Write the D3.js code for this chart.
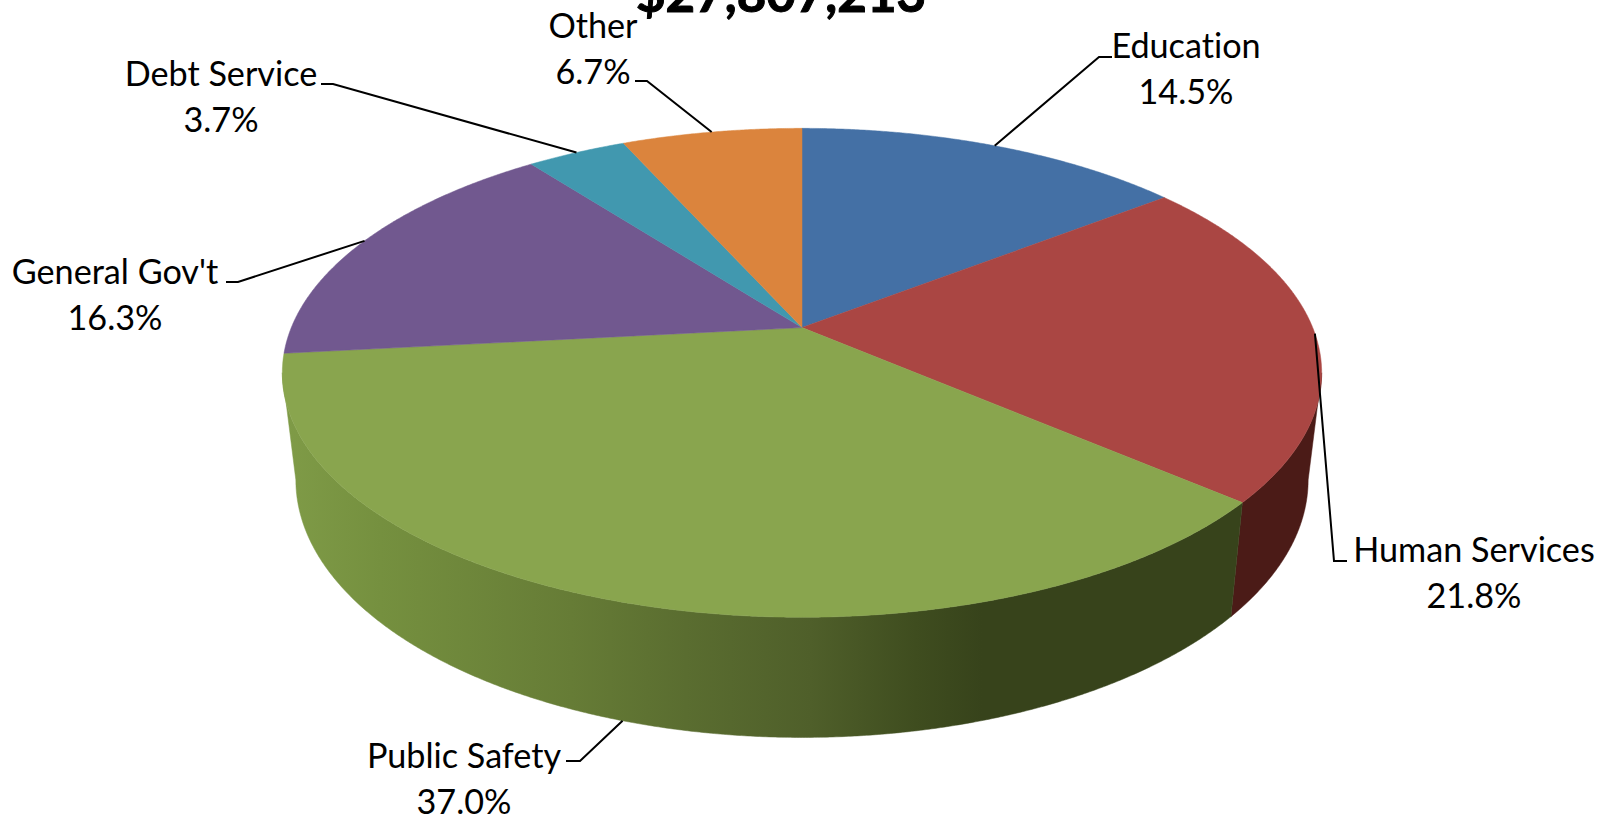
<!DOCTYPE html>
<html>
<head>
<meta charset="utf-8">
<script src="https://cdn.jsdelivr.net/npm/d3@7"></script>
<style>
body{margin:0;background:#fff}
svg{display:block}
text{font-family:Lato,sans-serif;fill:#000;font-variant-ligatures:none}
</style>
</head>
<body>
<div id="chart"></div>
<script>
var titleText = "$27,807,213";
var categories = ["Education", "Human Services", "Public Safety", "General Gov't", "Debt Service", "Other"];
var values = [14.5, 21.8, 37.0, 16.3, 3.7, 6.7];
var colors = ["#4470a5", "#aa4643", "#89a54e", "#71588f", "#4198af", "#db843d"];

// label layout, same order as categories: [center x, first baseline]
var labelPos = [[1186, 58], [1474, 562], [464, 768], [115, 284], [221, 86], [593, 38]];
// where the leader leaves the text: [start x, knee x, y]
var leaderPos = [[1112, 1099, 57], [1347, 1334, 561], [566, 580, 761], [226, 238, 282], [321, 333, 84], [635, 647, 81]];

var width = 1611, height = 819;
var cx = 802, cy = 327.6, rx = 510.7, ry = 236.1, persp = 0.1849;
var shrink = 0.974, growY = 1.0536, dropY = 87.1;
var step = 0.005;

var svg = d3.select("#chart").append("svg")
  .attr("width", width)
  .attr("height", height);

var color = d3.scaleOrdinal().domain(categories).range(colors);
var arcs = d3.pie().sort(null).value(function (d) { return d; })(values);

// top disc: circle seen in perspective, angle clockwise from 12 o'clock
function topRim(a) {
  var u = Math.sin(a), v = Math.cos(a), w = 1 + persp * v;
  return [cx + rx * u / w, cy - ry * v / w];
}
// same rim point on the bottom disc
function bottomRim(a) {
  var p = topRim(a);
  return [cx + shrink * (p[0] - cx), growY * p[1] + dropY];
}
function samples(a0, a1) {
  var out = d3.range(a0, a1, step);
  out.push(a1);
  return out;
}
var line = d3.line();

// silhouette angles of the wall, left and right
var rightEdge = Math.PI - Math.asin(Math.sqrt(1 - persp * persp));
var leftEdge = 2 * Math.PI - rightEdge;

var defs = svg.append("defs");
var grad = defs.append("linearGradient")
  .attr("id", "wallGreen")
  .attr("gradientUnits", "userSpaceOnUse")
  .attr("x1", 285).attr("x2", 1240).attr("y1", 0).attr("y2", 0);
var wallStops = [[0, "#7f9b47"], [0.1, "#75903f"], [0.3, "#667c36"], [0.42, "#5a6d30"], [0.55, "#4f5f2a"], [0.66, "#3f4d1f"], [0.73, "#37431b"], [1, "#37431b"]];
grad.selectAll("stop").data(wallStops).enter().append("stop")
  .attr("offset", function (d) { return d[0]; })
  .attr("stop-color", function (d) { return d[1]; });

// walls
var greenArc = arcs[2];
var walls = [
  {a0: rightEdge, a1: greenArc.startAngle, fill: "#4b1b17"},
  {a0: greenArc.startAngle, a1: leftEdge, fill: "url(#wallGreen)"}
];
svg.append("g").selectAll("path").data(walls).enter().append("path")
  .attr("d", function (d) {
    var s = samples(d.a0, d.a1);
    return line(s.map(topRim).concat(s.slice().reverse().map(bottomRim))) + "Z";
  })
  .attr("fill", function (d) { return d.fill; })
  .attr("stroke", function (d) { return d.fill; })
  .attr("stroke-width", 0.5);

// top slices
svg.append("g").selectAll("path").data(arcs).enter().append("path")
  .attr("d", function (d) {
    return line([[cx, cy]].concat(samples(d.startAngle, d.endAngle).map(topRim))) + "Z";
  })
  .attr("fill", function (d, i) { return color(categories[i]); })
  .attr("stroke", function (d, i) { return color(categories[i]); })
  .attr("stroke-width", 0.5);

// leader lines end on the rim at the middle of each slice
svg.append("g").selectAll("path").data(arcs).enter().append("path")
  .attr("d", function (d, i) {
    var mid = (d.startAngle + d.endAngle) / 2;
    var end = i == 2 ? bottomRim(mid) : topRim(mid);
    var l = leaderPos[i];
    return line([[l[0], l[2]], [l[1], l[2]], end]);
  })
  .attr("fill", "none")
  .attr("stroke", "#000")
  .attr("stroke-width", 2);

// labels
var lbl = svg.append("g").selectAll("text").data(categories).enter().append("text")
  .attr("text-anchor", "middle")
  .attr("font-size", 34.2)
  .attr("x", function (d, i) { return labelPos[i][0]; })
  .attr("y", function (d, i) { return labelPos[i][1]; });
lbl.append("tspan").text(function (d) { return d; });
lbl.append("tspan")
  .attr("x", function (d, i) { return labelPos[i][0]; })
  .attr("dy", 45.5)
  .text(function (d, i) { return d3.format(".1f")(values[i]) + "%"; });

// title, cut off by the top of the picture
svg.append("text")
  .attr("x", 781)
  .attr("y", 12)
  .attr("text-anchor", "middle")
  .attr("font-size", 51)
  .attr("font-weight", "bold")
  .attr("stroke", "#000")
  .attr("stroke-width", 1)
  .text(titleText);
</script>
</body>
</html>
